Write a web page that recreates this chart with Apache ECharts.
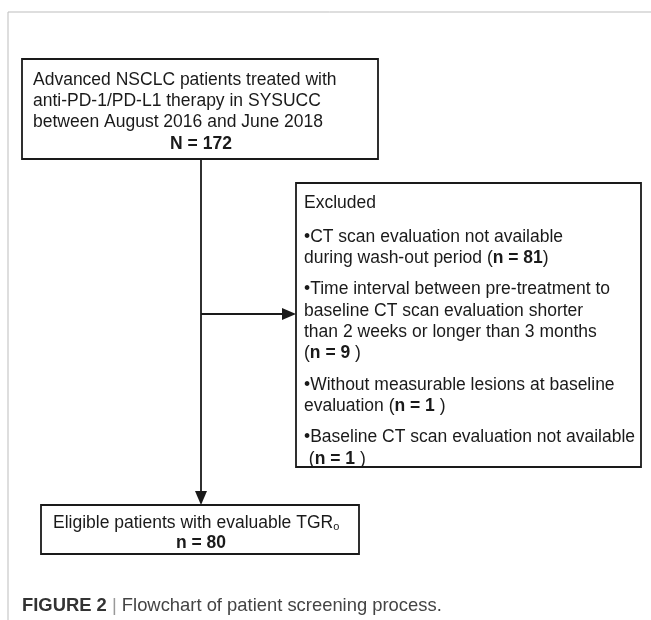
<!DOCTYPE html>
<html>
<head>
<meta charset="utf-8">
<script src="https://cdn.jsdelivr.net/npm/echarts@6/dist/echarts.min.js"></script>
<style>
  html, body { margin: 0; padding: 0; background: #fff; }
  #main { width: 651px; height: 620px; }
</style>
</head>
<body>
<div id="main"></div>
<script>
// 流程图文字（数据）
var topLines = [
  'Advanced NSCLC patients treated with',
  'anti-PD-1/PD-L1 therapy in SYSUCC',
  'between August 2016 and June 2018'
];
var totalN = 172;

var excludedTitle = 'Excluded';
// 每条排除原因：文字行 + 人数
var excludedReasons = [
  ['•CT scan evaluation not available', 'during wash-out period ('],
  ['•Time interval between pre-treatment to', 'baseline CT scan evaluation shorter', 'than 2 weeks or longer than 3 months', '('],
  ['•Without measurable lesions at baseline', 'evaluation ('],
  ['•Baseline CT scan evaluation not available', ' (']
];
var excludedN = [81, 9, 1, 1];

var finalLine = 'Eligible patients with evaluable TGR';
var finalN = 80;

var captionBold = 'FIGURE 2';
var captionText = 'Flowchart of patient screening process.';

// 布局
var FONT = "'Liberation Sans', Arial, sans-serif";
var FS = 17.5;
var LH = 21.3;
var box1 = { x: 22, y: 59, w: 356, h: 100 };
var box2 = { x: 296, y: 183, w: 345, h: 284 };
var box3 = { x: 41, y: 505, w: 318, h: 49 };
var stemX = 201;
var branchY = 314;
var INK = '#1a1a1a';

var rich = {
  r: { fontSize: FS, fontFamily: FONT, fill: INK },
  b: { fontSize: FS, fontFamily: FONT, fontWeight: 'bold', fill: INK },
  s: { fontSize: 11, fontFamily: FONT, fill: INK, padding: [7, 0, 0, 0] }
};

function txt(x, y, text, align) {
  return {
    type: 'text', x: x, y: y,
    style: { text: text, rich: rich, align: align || 'left', verticalAlign: 'middle',
             fontSize: FS, fontFamily: FONT, fill: INK }
  };
}
function rect(b) {
  return {
    type: 'rect', shape: { x: b.x, y: b.y, width: b.w, height: b.h },
    style: { fill: '#fff', stroke: INK, lineWidth: 1.8 }
  };
}

var els = [];
// 外框灰线
els.push({ type: 'line', shape: { x1: 8, y1: 12, x2: 651, y2: 12 }, style: { stroke: '#bdbdbd', lineWidth: 1 } });
els.push({ type: 'line', shape: { x1: 8, y1: 12, x2: 8, y2: 620 }, style: { stroke: '#bdbdbd', lineWidth: 1 } });

// 连接线和箭头
els.push({ type: 'line', shape: { x1: stemX, y1: box1.y + box1.h, x2: stemX, y2: box3.y - 10 }, style: { stroke: INK, lineWidth: 1.8 } });
els.push({ type: 'polygon', shape: { points: [[stemX - 6, box3.y - 14], [stemX + 6, box3.y - 14], [stemX, box3.y]] }, style: { fill: INK } });
els.push({ type: 'line', shape: { x1: stemX, y1: branchY, x2: box2.x - 10, y2: branchY }, style: { stroke: INK, lineWidth: 1.8 } });
els.push({ type: 'polygon', shape: { points: [[box2.x - 14, branchY - 6], [box2.x - 14, branchY + 6], [box2.x, branchY]] }, style: { fill: INK } });

// 第一个框
els.push(rect(box1));
topLines.forEach(function (l, i) {
  els.push(txt(box1.x + 11, box1.y + 21 + i * LH, '{r|' + l + '}'));
});
els.push(txt(stemX, box1.y + 21 + 3 * LH, '{b|N = ' + totalN + '}', 'center'));

// 排除框
els.push(rect(box2));
var y = box2.y + 20;
els.push(txt(box2.x + 8, y, '{r|' + excludedTitle + '}'));
y += 34;
excludedReasons.forEach(function (lines, k) {
  lines.forEach(function (l, i) {
    var t = '{r|' + l + '}';
    if (i === lines.length - 1) {
      t += '{b|n = ' + excludedN[k] + '}' + '{r|' + (k === 0 ? ')' : ' )') + '}';
    }
    els.push(txt(box2.x + 8, y, t));
    y += LH;
  });
  y += 10;
});

// 最终框
els.push(rect(box3));
els.push(txt(box3.x + 12, box3.y + 18, '{r|' + finalLine + '}{s|o}'));
els.push(txt(stemX, box3.y + 38, '{b|n = ' + finalN + '}', 'center'));

// 图注
var CF = "'Liberation Sans', Arial, sans-serif";
els.push({
  type: 'text', x: 22, y: 606,
  style: {
    text: '{cb|' + captionBold + '}{sep| | }{ct|' + captionText + '}',
    verticalAlign: 'middle',
    rich: {
      cb: { fontSize: 18.4, fontFamily: CF, fontWeight: 'bold', fill: '#333' },
      sep: { fontSize: 18.4, fontFamily: CF, fill: '#999' },
      ct: { fontSize: 18.4, fontFamily: CF, fill: '#444' }
    }
  }
});

var chart = echarts.init(document.getElementById('main'));
chart.setOption({
  backgroundColor: '#fff',
  animation: false,
  graphic: { elements: els }
});
</script>
</body>
</html>
